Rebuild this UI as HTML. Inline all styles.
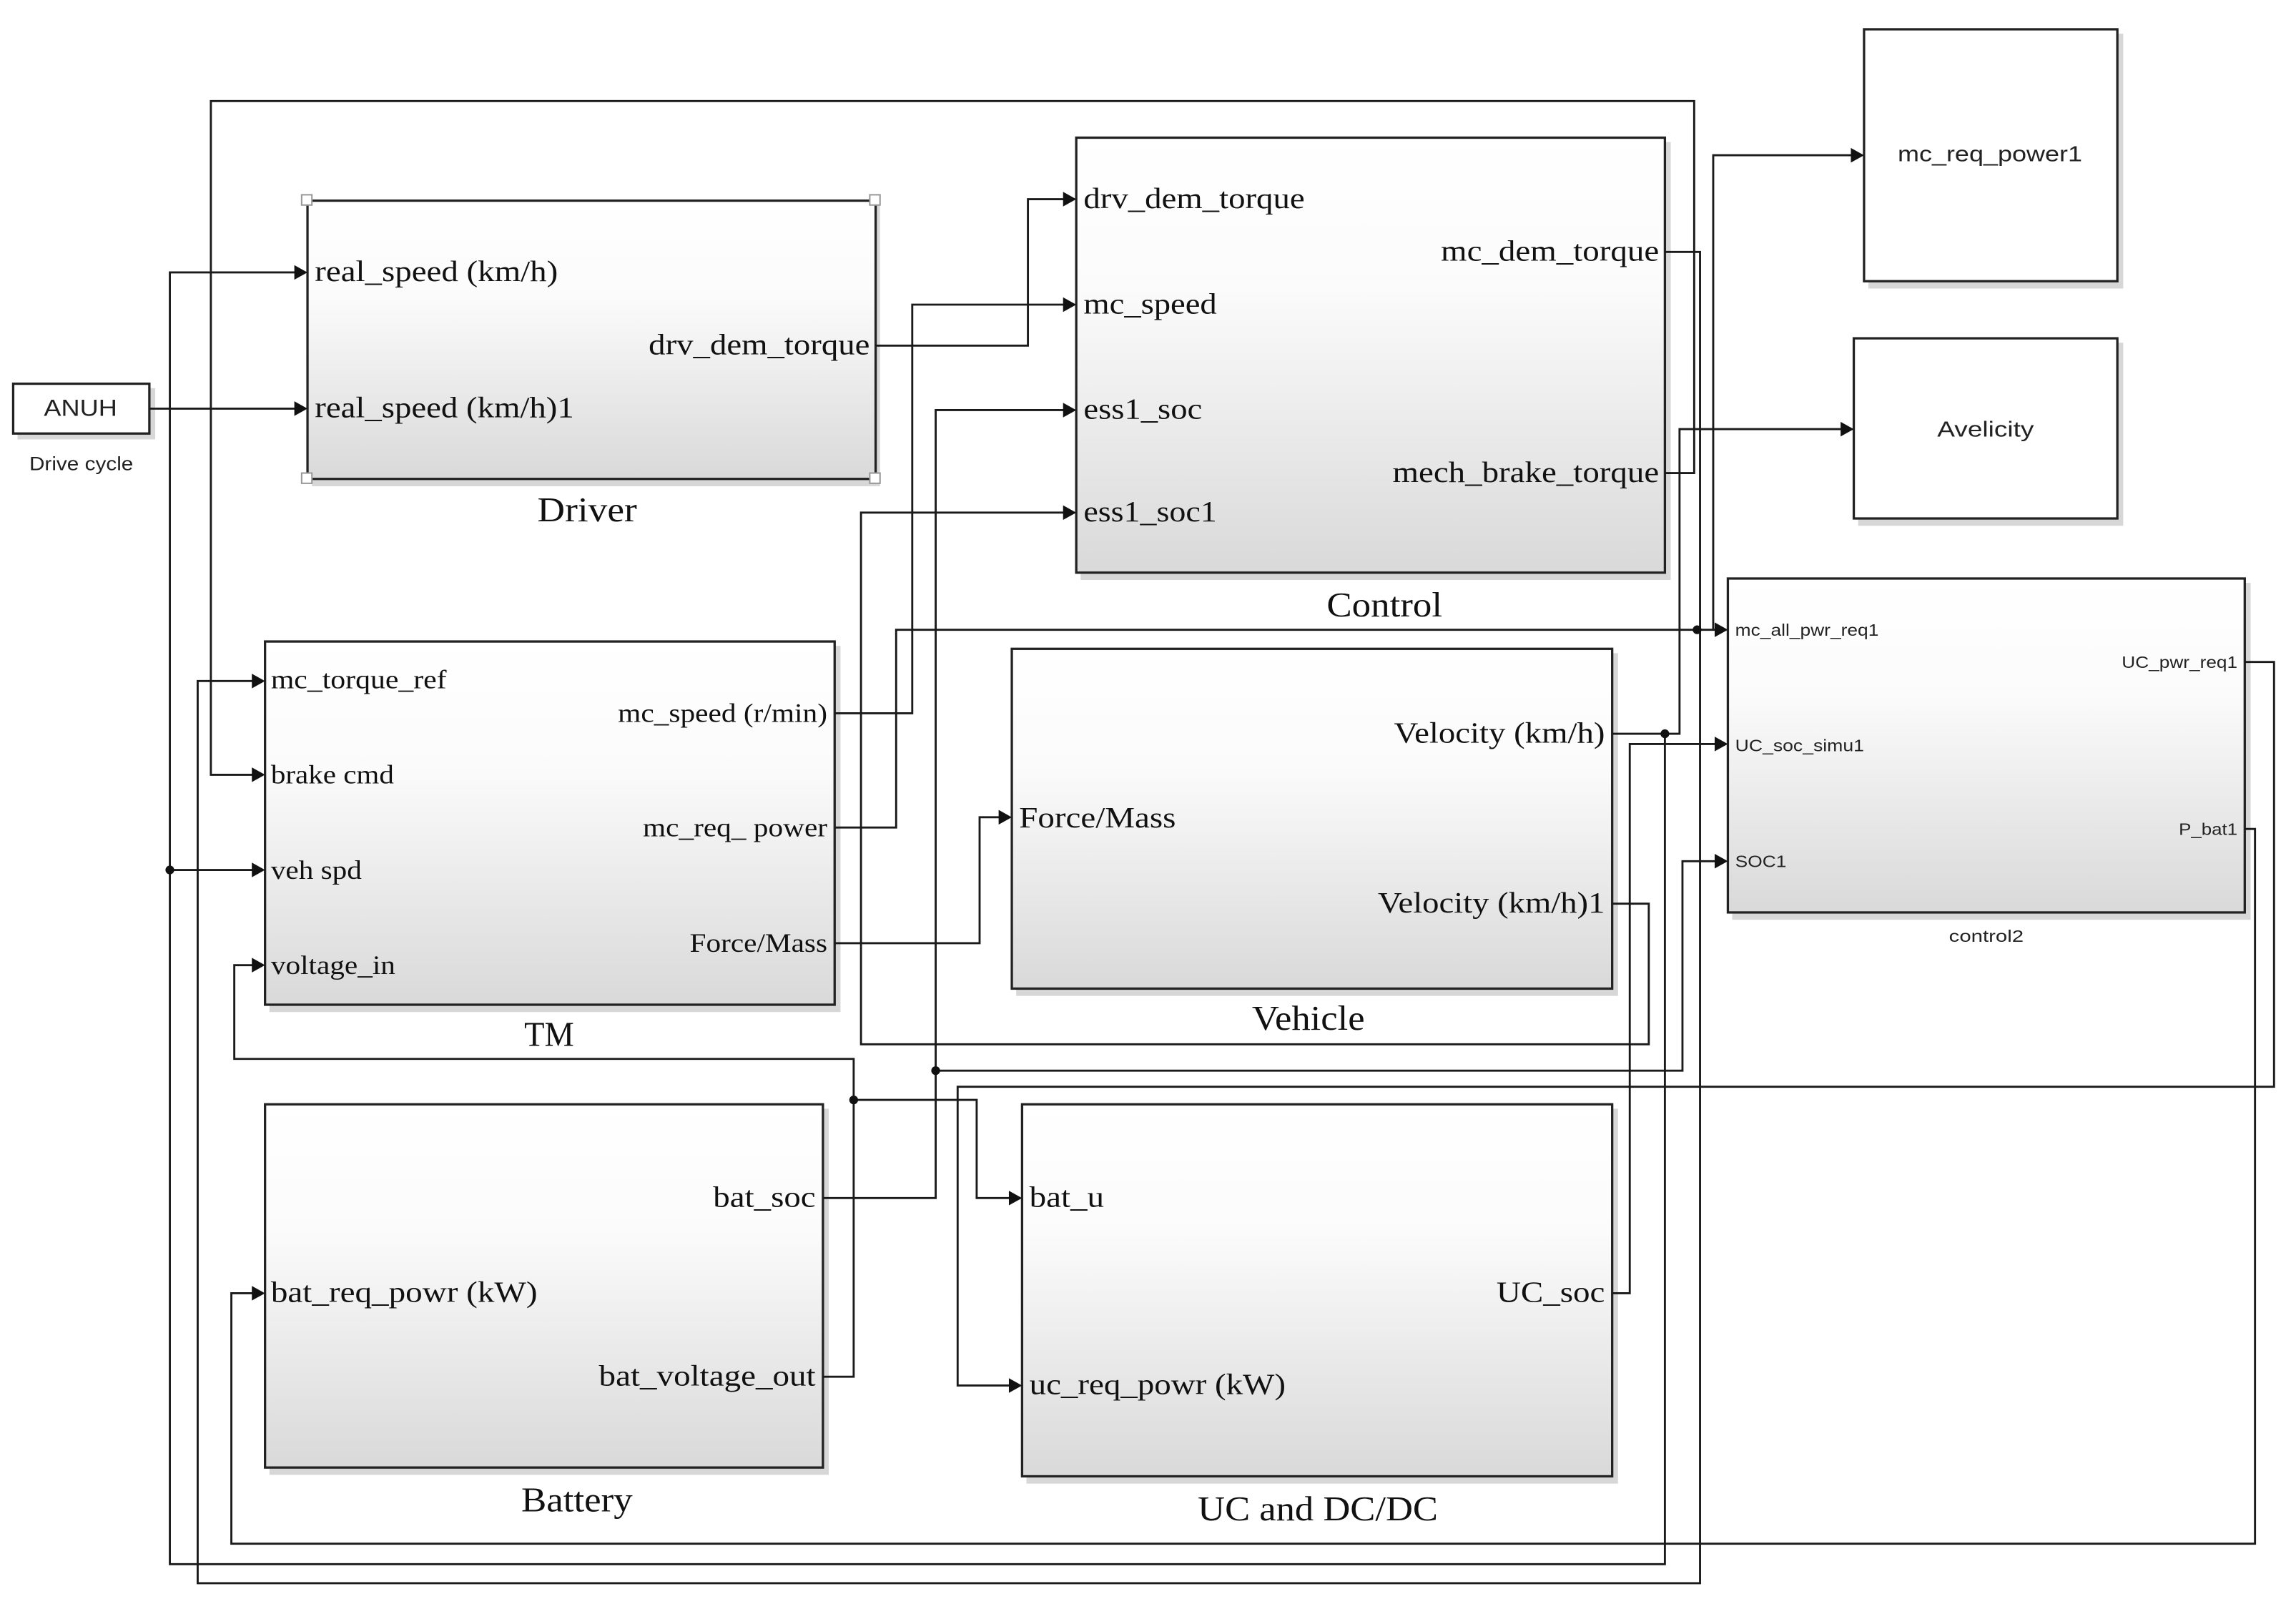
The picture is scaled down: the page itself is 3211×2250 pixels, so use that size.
<!DOCTYPE html>
<html><head><meta charset="utf-8"><style>
html,body{margin:0;padding:0;background:#fff;}
svg{display:block;}
.s{font-family:"Liberation Serif",serif;fill:#111;}
.a{font-family:"Liberation Sans",sans-serif;fill:#222;}
.w{fill:none;stroke:#1a1a1a;stroke-width:1.4;}
</style></head><body>
<svg width="3211" height="2250" viewBox="0 0 1568 1098.6" preserveAspectRatio="none" xmlns="http://www.w3.org/2000/svg">
<defs>
<linearGradient id="g" x1="0" y1="0" x2="0" y2="1">
<stop offset="0" stop-color="#ffffff"/><stop offset="0.35" stop-color="#fbfbfb"/><stop offset="1" stop-color="#d9d9d9"/>
</linearGradient>
</defs>
<rect width="1568" height="1098.6" fill="#fff"/>

<!-- block shadows -->
<g fill="#bdbdbd" opacity="0.6">
<rect x="213" y="140" width="388" height="192"/>
<rect x="738" y="97" width="403" height="299"/>
<rect x="184" y="441" width="390" height="250"/>
<rect x="694" y="446" width="411" height="234"/>
<rect x="184" y="757" width="382" height="250"/>
<rect x="701" y="757" width="404" height="256"/>
<rect x="1183" y="398" width="354" height="230"/>
<rect x="1276" y="23" width="174" height="174"/>
<rect x="1269" y="234" width="181" height="125"/>
<rect x="12" y="265" width="94" height="35"/>
</g>

<!-- blocks -->
<g stroke="#222" stroke-width="1.6">
<rect x="210" y="137" width="388" height="190" fill="url(#g)"/>
<rect x="735" y="94" width="402" height="297" fill="url(#g)"/>
<rect x="181" y="438" width="389" height="248" fill="url(#g)"/>
<rect x="691" y="443" width="410" height="232" fill="url(#g)"/>
<rect x="181" y="754" width="381" height="248" fill="url(#g)"/>
<rect x="698" y="754" width="403" height="254" fill="url(#g)"/>
<rect x="1180" y="395" width="353" height="228" fill="url(#g)"/>
<rect x="1273" y="20" width="173" height="172" fill="#fff"/>
<rect x="1266" y="231" width="180" height="123" fill="#fff"/>
<rect x="9" y="262" width="93" height="34" fill="#fff"/>
</g>
<!-- selection handles -->
<g fill="#fff" stroke="#999" stroke-width="1">
<rect x="206" y="133" width="7" height="7"/><rect x="594" y="133" width="7" height="7"/>
<rect x="206" y="323" width="7" height="7"/><rect x="594" y="323" width="7" height="7"/>
</g>

<!-- connectors -->
<g class="w">
<polyline points="102,279 202,279"/>
<polyline points="202,186 116,186 116,1068 1137,1068 1137,501"/>
<polyline points="116,594 173,594"/>
<polyline points="1101,501 1147,501 1147,293 1258,293"/>
<polyline points="1101,883 1113,883 1113,508 1172,508"/>
<polyline points="562,818 639,818 639,280 727,280"/>
<polyline points="639,731 1149,731 1149,588 1172,588"/>
<polyline points="562,940 583,940 583,723 160,723 160,659 173,659"/>
<polyline points="583,751 667,751 667,818 690,818"/>
<polyline points="1533,452 1553,452 1553,742 654,742 654,946 690,946"/>
<polyline points="1533,566 1540,566 1540,1054 158,1054 158,883 173,883"/>
<polyline points="1137,172 1161,172 1161,1081 135,1081 135,465 173,465"/>
<polyline points="1137,323 1157,323 1157,69 144,69 144,529 173,529"/>
<polyline points="598,236 702,236 702,136 727,136"/>
<polyline points="570,487 623,487 623,208 727,208"/>
<polyline points="570,565 612,565 612,430 1172,430"/>
<polyline points="1170,430 1170,106 1265,106"/>
<polyline points="570,644 669,644 669,558 683,558"/>
<polyline points="1101,617 1126,617 1126,713 588,713 588,350 727,350"/>
</g>
<!-- arrowheads -->
<g fill="#111">
<polygon points="201,274 210,279 201,284"/>
<polygon points="201,181 210,186 201,191"/>
<polygon points="172,589 181,594 172,599"/>
<polygon points="1257,288 1266,293 1257,298"/>
<polygon points="1171,503 1180,508 1171,513"/>
<polygon points="726,275 735,280 726,285"/>
<polygon points="1171,583 1180,588 1171,593"/>
<polygon points="172,654 181,659 172,664"/>
<polygon points="689,813 698,818 689,823"/>
<polygon points="689,941 698,946 689,951"/>
<polygon points="172,878 181,883 172,888"/>
<polygon points="172,460 181,465 172,470"/>
<polygon points="172,524 181,529 172,534"/>
<polygon points="726,131 735,136 726,141"/>
<polygon points="726,203 735,208 726,213"/>
<polygon points="1171,425 1180,430 1171,435"/>
<polygon points="1264,101 1273,106 1264,111"/>
<polygon points="682,553 691,558 682,563"/>
<polygon points="726,345 735,350 726,355"/>
<!-- junction dots -->
<circle cx="116" cy="594" r="3"/>
<circle cx="1137" cy="501" r="3"/>
<circle cx="639" cy="731" r="3"/>
<circle cx="583" cy="751" r="3"/>
<circle cx="1159" cy="430" r="3"/>
</g>

<!-- serif labels -->
<g class="s" font-size="20">
<text x="215" y="192" textLength="166" lengthAdjust="spacingAndGlyphs">real_speed (km/h)</text>
<text x="215" y="285" textLength="177" lengthAdjust="spacingAndGlyphs">real_speed (km/h)1</text>
<text x="443" y="242" textLength="151" lengthAdjust="spacingAndGlyphs">drv_dem_torque</text>
<text x="740" y="142" textLength="151" lengthAdjust="spacingAndGlyphs">drv_dem_torque</text>
<text x="740" y="214" textLength="91" lengthAdjust="spacingAndGlyphs">mc_speed</text>
<text x="740" y="286" textLength="81" lengthAdjust="spacingAndGlyphs">ess1_soc</text>
<text x="740" y="356" textLength="91" lengthAdjust="spacingAndGlyphs">ess1_soc1</text>
<text x="984" y="178" textLength="149" lengthAdjust="spacingAndGlyphs">mc_dem_torque</text>
<text x="951" y="329" textLength="182" lengthAdjust="spacingAndGlyphs">mech_brake_torque</text>
<text x="952" y="507" textLength="144" lengthAdjust="spacingAndGlyphs">Velocity (km/h)</text>
<text x="696" y="565" textLength="107" lengthAdjust="spacingAndGlyphs">Force/Mass</text>
<text x="941" y="623" textLength="155" lengthAdjust="spacingAndGlyphs">Velocity (km/h)1</text>
<text x="487" y="824" textLength="70" lengthAdjust="spacingAndGlyphs">bat_soc</text>
<text x="185" y="889" textLength="182" lengthAdjust="spacingAndGlyphs">bat_req_powr (kW)</text>
<text x="409" y="946" textLength="148" lengthAdjust="spacingAndGlyphs">bat_voltage_out</text>
<text x="703" y="824" textLength="51" lengthAdjust="spacingAndGlyphs">bat_u</text>
<text x="703" y="952" textLength="175" lengthAdjust="spacingAndGlyphs">uc_req_powr (kW)</text>
<text x="1022" y="889" textLength="74" lengthAdjust="spacingAndGlyphs">UC_soc</text>
</g>
<g class="s" font-size="18">
<text x="185" y="470" textLength="120" lengthAdjust="spacingAndGlyphs">mc_torque_ref</text>
<text x="185" y="535" textLength="84" lengthAdjust="spacingAndGlyphs">brake cmd</text>
<text x="185" y="600" textLength="62" lengthAdjust="spacingAndGlyphs">veh spd</text>
<text x="185" y="665" textLength="85" lengthAdjust="spacingAndGlyphs">voltage_in</text>
<text x="422" y="493" textLength="143" lengthAdjust="spacingAndGlyphs">mc_speed (r/min)</text>
<text x="439" y="571" textLength="126" lengthAdjust="spacingAndGlyphs">mc_req_ power</text>
<text x="471" y="650" textLength="94" lengthAdjust="spacingAndGlyphs">Force/Mass</text>
</g>
<g class="s" font-size="24">
<text x="367" y="356" textLength="68" lengthAdjust="spacingAndGlyphs">Driver</text>
<text x="906" y="421" textLength="79" lengthAdjust="spacingAndGlyphs">Control</text>
<text x="358" y="714" textLength="34" lengthAdjust="spacingAndGlyphs">TM</text>
<text x="855" y="703" textLength="77" lengthAdjust="spacingAndGlyphs">Vehicle</text>
<text x="356" y="1032" textLength="76" lengthAdjust="spacingAndGlyphs">Battery</text>
<text x="818" y="1038" textLength="164" lengthAdjust="spacingAndGlyphs">UC and DC/DC</text>
</g>

<!-- sans labels -->
<g class="a" font-size="11.5">
<text x="1185" y="434" textLength="98" lengthAdjust="spacingAndGlyphs">mc_all_pwr_req1</text>
<text x="1185" y="513" textLength="88" lengthAdjust="spacingAndGlyphs">UC_soc_simu1</text>
<text x="1185" y="592" textLength="35" lengthAdjust="spacingAndGlyphs">SOC1</text>
<text x="1449" y="456" textLength="79" lengthAdjust="spacingAndGlyphs">UC_pwr_req1</text>
<text x="1488" y="570" textLength="40" lengthAdjust="spacingAndGlyphs">P_bat1</text>
<text x="1331" y="643" textLength="51" lengthAdjust="spacingAndGlyphs">control2</text>
</g>
<g class="a" font-size="15">
<text x="1296" y="110" textLength="126" lengthAdjust="spacingAndGlyphs">mc_req_power1</text>
<text x="1323" y="298" textLength="66" lengthAdjust="spacingAndGlyphs">Avelicity</text>
<text x="30" y="284" textLength="50" lengthAdjust="spacingAndGlyphs" font-size="16">ANUH</text>
<text x="20" y="321" textLength="71" lengthAdjust="spacingAndGlyphs" font-size="13">Drive cycle</text>
</g>
</svg>
</body></html>
